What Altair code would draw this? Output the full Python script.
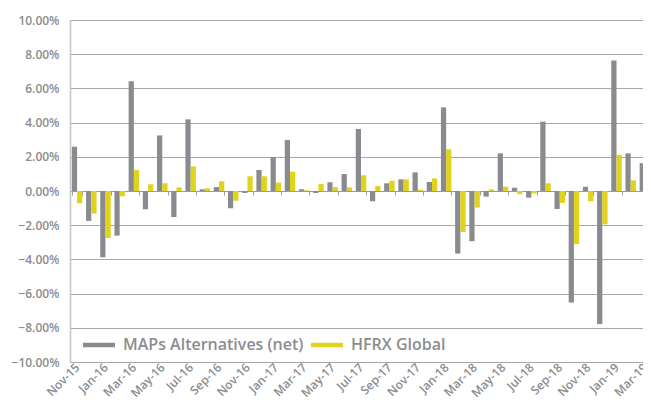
import altair as alt
import pandas as pd

months = ["Nov-15", "Dec-15", "Jan-16", "Feb-16", "Mar-16", "Apr-16", "May-16", "Jun-16",
          "Jul-16", "Aug-16", "Sep-16", "Oct-16", "Nov-16", "Dec-16", "Jan-17", "Feb-17",
          "Mar-17", "Apr-17", "May-17", "Jun-17", "Jul-17", "Aug-17", "Sep-17", "Oct-17",
          "Nov-17", "Dec-17", "Jan-18", "Feb-18", "Mar-18", "Apr-18", "May-18", "Jun-18",
          "Jul-18", "Aug-18", "Sep-18", "Oct-18", "Nov-18", "Dec-18", "Jan-19", "Feb-19",
          "Mar-19"]

maps_net = [2.59, -1.75, -3.88, -2.61, 6.42, -1.07, 3.25, -1.52, 4.19, 0.10, 0.23, -1.01,
            -0.12, 1.23, 1.99, 2.98, 0.10, -0.12, 0.51, 0.99, 3.63, -0.60, 0.45, 0.68,
            1.09, 0.53, 4.89, -3.66, -2.94, -0.33, 2.20, 0.19, -0.39, 4.06, -1.05, -6.52,
            0.25, -7.78, 7.63, 2.20, 1.63]

hfrx_global = [-0.72, -1.32, -2.75, -0.31, 1.23, 0.39, 0.45, 0.21, 1.44, 0.16, 0.57, -0.57,
               0.86, 0.86, 0.49, 1.13, 0.04, 0.41, 0.23, 0.21, 0.92, 0.29, 0.60, 0.68,
               0.08, 0.74, 2.44, -2.40, -0.97, 0.10, 0.25, -0.18, -0.14, 0.45, -0.70, -3.11,
               -0.60, -1.95, 2.12, 0.62, 0.40]

series_names = ["MAPs Alternatives (net)", "HFRX Global"]
series_colors = ["#8a8b90", "#e1d21c"]

y_ticks = [-10, -8, -6, -4, -2, 0, 2, 4, 6, 8, 10]
label_months = months[::2]

rows = []
for i, m in enumerate(months):
    rows.append({"month": m, "series": series_names[0], "value": maps_net[i]})
    rows.append({"month": m, "series": series_names[1], "value": hfrx_global[i]})
df = pd.DataFrame(rows)

TXT = "#8c8c90"
FONT = "Open Sans"
W, H = 573, 342
X_RANGE = 582  # category axis runs a little past the right edge (cropped in the original)

chart = alt.Chart(df).mark_bar(clip=True).encode(
    x=alt.X("month:N", sort=months,
            scale=alt.Scale(paddingInner=0.26, paddingOuter=0.13, range=[0, X_RANGE]),
            axis=alt.Axis(values=label_months, tickBand="extent", offset=-H / 2,
                          labelPadding=170, labelAngle=-45, labelAlign="right",
                          labelBaseline="middle",
                          ticks=True, tickSize=4, tickColor="#9a9a9a",
                          domain=True, domainColor="#9a9a9a", domainWidth=1,
                          grid=False, title=None, labelFontSize=12,
                          labelColor=TXT, labelFont=FONT, labelFontWeight=600)),
    xOffset=alt.XOffset("series:N", sort=series_names,
                        scale=alt.Scale(paddingInner=0, paddingOuter=0)),
    y=alt.Y("value:Q", scale=alt.Scale(domain=[-10, 10], nice=False),
            axis=alt.Axis(values=y_ticks, labelExpr="format(datum.value, '.2f') + '%'",
                          grid=True, gridColor="#a8a8a8", gridWidth=1, ticks=False,
                          domain=True, domainColor="#c4c4c4", domainWidth=1.5,
                          labelPadding=11, title=None, labelFontSize=12,
                          labelColor=TXT, labelFont=FONT, labelFontWeight=600)),
    color=alt.Color("series:N", sort=series_names,
                    scale=alt.Scale(domain=series_names, range=series_colors),
                    legend=alt.Legend(orient="none", legendX=13, legendY=309,
                                      direction="horizontal", title=None,
                                      symbolType="M-1,-0.14L1,-0.14L1,0.14L-1,0.14Z",
                                      symbolSize=1024, symbolStrokeWidth=0,
                                      labelFontSize=16, labelColor=TXT, labelFont=FONT,
                                      labelFontWeight=600, labelOffset=8, labelLimit=400,
                                      columnPadding=7, padding=0)),
).properties(
    width=W, height=H,
    autosize=alt.AutoSizeParams(type="none"),
    padding={"left": 62, "top": 12, "right": 0, "bottom": 40},
).configure_view(stroke=None).configure(background="white")

chart.save("out.html", embed_options={"renderer": "svg", "actions": False})
